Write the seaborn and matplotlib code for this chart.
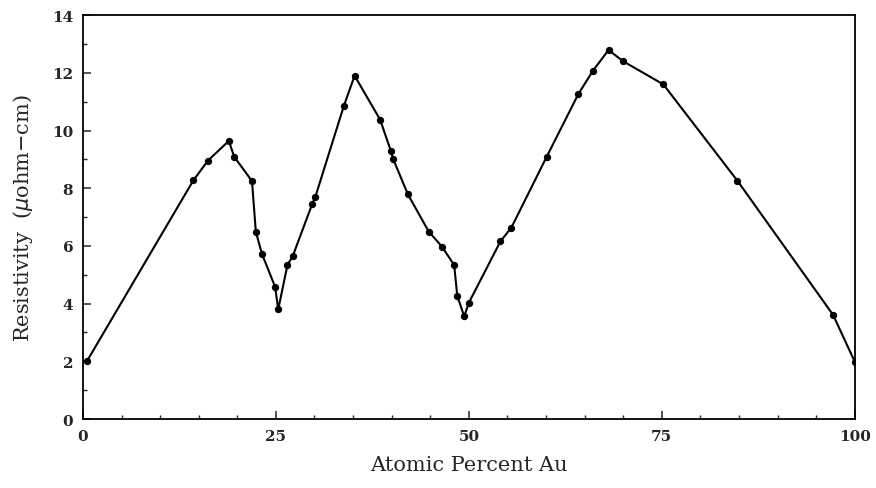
import matplotlib
matplotlib.use("Agg")
import matplotlib.pyplot as plt
from matplotlib.ticker import MultipleLocator
import seaborn as sns
import pandas as pd

# Resistivity of the alloy across the composition range
atomic_pct_au = [0.5, 14.3, 16.2, 18.9, 19.6, 21.9, 22.4, 23.2, 24.9, 25.3,
                 26.5, 27.2, 29.7, 30.1, 33.8, 35.2, 38.5, 39.9, 40.2, 42.1,
                 44.8, 46.5, 48.1, 48.5, 49.4, 50.0, 54.1, 55.5, 60.1, 64.2,
                 66.1, 68.1, 70.0, 75.2, 84.8, 97.2, 100.0]
resistivity = [2.0, 8.27, 8.96, 9.64, 9.09, 8.25, 6.49, 5.72, 4.58, 3.80,
               5.34, 5.66, 7.45, 7.69, 10.85, 11.9, 10.38, 9.29, 9.01, 7.79,
               6.50, 5.98, 5.34, 4.27, 3.56, 4.03, 6.16, 6.63, 9.10, 11.27,
               12.08, 12.79, 12.40, 11.60, 8.26, 3.61, 1.99]

x_ticks = [0, 25, 50, 75, 100]
y_ticks = [0, 2, 4, 6, 8, 10, 12, 14]

df = pd.DataFrame({"Atomic Percent Au": atomic_pct_au,
                   "Resistivity": resistivity})

sns.set_style("ticks")
plt.rcParams["font.family"] = ["DejaVu Serif"]

fig = plt.figure(figsize=(8.76, 4.89), dpi=100)
ax = fig.add_axes([0.0947, 0.141, 0.881, 0.826])

sns.lineplot(data=df, x="Atomic Percent Au", y="Resistivity", ax=ax,
             color="black", linewidth=1.5, marker="o", markersize=4.5,
             markeredgecolor="black", markerfacecolor="black", sort=False)

ax.set_xlim(0, 100)
ax.set_ylim(0, 14)
ax.set_xticks(x_ticks)
ax.set_yticks(y_ticks)
ax.xaxis.set_minor_locator(MultipleLocator(5))
ax.yaxis.set_minor_locator(MultipleLocator(1))
ax.tick_params(which="major", direction="in", length=6, width=1.1,
               labelsize=11, pad=7)
ax.tick_params(which="minor", direction="in", length=3, width=1.0)
for lbl in ax.get_xticklabels() + ax.get_yticklabels():
    lbl.set_fontweight("bold")
for s in ax.spines.values():
    s.set_visible(True)
    s.set_linewidth(1.3)
    s.set_color("black")

ax.set_xlabel("Atomic Percent Au", fontsize=15, labelpad=9)
ax.set_ylabel("Resistivity  ($\\mu$ohm$-$cm)", fontsize=15, labelpad=12)

fig.savefig("out.png", dpi=100)
